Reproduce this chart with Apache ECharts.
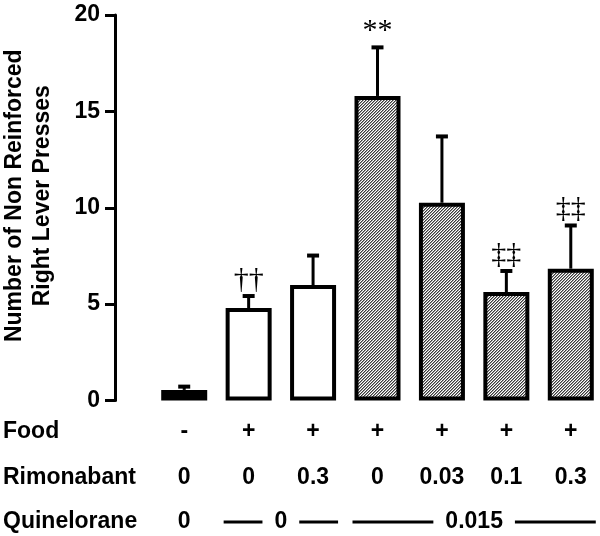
<!DOCTYPE html>
<html>
<head>
<meta charset="utf-8">
<script src="https://cdn.jsdelivr.net/npm/echarts@6/dist/echarts.min.js"></script>
<style>
html, body { margin: 0; padding: 0; background: #fff; }
#chart { width: 600px; height: 536px; }
</style>
</head>
<body>
<div id="chart"></div>
<script>
// groups
const categories = ['No food', 'Food', 'Food + R0.3', 'Food + Q', 'Food + Q + R0.03', 'Food + Q + R0.1', 'Food + Q + R0.3']
const means = [0.55, 4.8, 5.99, 15.8, 10.26, 5.63, 6.84]
const sems = [0.17, 0.62, 1.53, 2.52, 3.44, 1.09, 2.24]
const marks = ['', '††', '', '**', '', '‡‡', '‡‡']

// dose table under the bars
const foodRow = ['-', '+', '+', '+', '+', '+', '+']
const rimonabantRow = ['0', '0', '0.3', '0', '0.03', '0.1', '0.3']
const quineloraneGroups = [
  { label: '0', from: 0, to: 0 },
  { label: '0', from: 1, to: 2 },
  { label: '0.015', from: 3, to: 6 },
]

const yMin = 0
const yMax = 20
const yStep = 5

const sans = 'Liberation Sans, Arial, sans-serif'
const serif = 'Liberation Serif, Times New Roman, serif'
const barW = 46
const border = 4

function hatchCanvas() {
  const c = document.createElement('canvas')
  c.width = 3
  c.height = 3
  const ctx = c.getContext('2d')
  for (let x = 0; x < 3; x++) {
    for (let y = 0; y < 3; y++) {
      const k = (x + y) % 3
      ctx.fillStyle = k === 0 ? '#3a3a3a' : k === 1 ? '#9a9a9a' : '#fff'
      ctx.fillRect(x, y, 1, 1)
    }
  }
  return c
}

const hatch = { image: hatchCanvas(), repeat: 'repeat' }
const fills = ['#000', '#fff', '#fff', hatch, hatch, hatch, hatch]

const chartDom = document.getElementById('chart')
const myChart = echarts.init(chartDom, null, { renderer: 'canvas' })

const option = {
  animation: false,
  textStyle: { fontFamily: sans },
  grid: { left: 152, top: 15, width: 451, height: 385.5, outerBoundsMode: 'none', containLabel: false },
  xAxis: {
    type: 'category',
    data: categories,
    axisLine: { show: false },
    axisTick: { show: false },
    axisLabel: { show: false },
  },
  yAxis: {
    type: 'value',
    min: yMin,
    max: yMax,
    interval: yStep,
    offset: 37,
    axisLine: { show: true, lineStyle: { color: '#000', width: 3 } },
    axisTick: { show: true, length: 10, lineStyle: { color: '#000', width: 3 } },
    axisLabel: { color: '#000', fontSize: 23, fontWeight: 'bold', margin: 15 },
    splitLine: { show: false },
    name: 'Number of Non Reinforced\nRight Lever Presses',
    nameLocation: 'middle',
    nameGap: 58,
    nameTextStyle: {
      color: '#000',
      fontSize: 23,
      fontWeight: 'bold',
      lineHeight: 28,
      padding: [0, 0, 0, 24],
    },
  },
  series: [
    {
      type: 'bar',
      barWidth: barW,
      data: means.map((v, i) => ({
        value: v,
        itemStyle: { color: fills[i], borderColor: '#000', borderWidth: border },
      })),
    },
    {
      type: 'custom',
      data: means.map((v, i) => [i, v, sems[i]]),
      renderItem(params, api) {
        const i = api.value(0)
        const base = api.coord([i, api.value(1)])
        const top = api.coord([i, api.value(1) + api.value(2)])
        const children = [
          { type: 'line', shape: { x1: top[0], y1: base[1], x2: top[0], y2: top[1] }, style: { stroke: '#000', lineWidth: 3 } },
          { type: 'rect', shape: { x: top[0] - 6, y: top[1] - 2, width: 12, height: 4 }, style: { fill: '#000' } },
        ]
        if (marks[i]) {
          children.push({
            type: 'text',
            x: top[0],
            y: top[1] - 1,
            style: { text: marks[i], font: '30px ' + serif, align: 'center', verticalAlign: 'bottom', fill: '#000' },
          })
        }
        return { type: 'group', children }
      },
      z: 3,
    },
  ],
}

myChart.setOption(option)

// the dose table, placed under each bar
function tableGraphics() {
  const cx = i => myChart.convertToPixel({ xAxisIndex: 0 }, categories[i])
  const half = barW / 2 + border / 2
  const font = 'bold 23px ' + sans
  const measure = document.createElement('canvas').getContext('2d')
  measure.font = font
  const rows = [
    { title: 'Food', y: 432 },
    { title: 'Rimonabant', y: 478 },
    { title: 'Quinelorane', y: 522 },
  ]
  const els = []
  const text = (t, x, y, align) => ({
    type: 'text', x, y,
    style: { text: t, font, fill: '#000', align: align || 'center', verticalAlign: 'middle' },
  })
  rows.forEach(r => els.push(text(r.title, 3, r.y, 'left')))
  foodRow.forEach((t, i) => els.push(text(t, cx(i), rows[0].y)))
  rimonabantRow.forEach((t, i) => els.push(text(t, cx(i), rows[1].y)))
  quineloraneGroups.forEach(g => {
    const y = rows[2].y
    if (g.from === g.to) {
      els.push(text(g.label, cx(g.from), y))
      return
    }
    const left = cx(g.from) - half
    const right = cx(g.to) + half
    const mid = (left + right) / 2
    const w = measure.measureText(g.label).width
    const gap = 12
    els.push(text(g.label, mid, y))
    els.push({ type: 'line', shape: { x1: left, y1: y, x2: mid - w / 2 - gap, y2: y }, style: { stroke: '#000', lineWidth: 3 } })
    els.push({ type: 'line', shape: { x1: mid + w / 2 + gap, y1: y, x2: right, y2: y }, style: { stroke: '#000', lineWidth: 3 } })
  })
  return els
}

myChart.setOption({ graphic: tableGraphics() })
</script>
</body>
</html>
